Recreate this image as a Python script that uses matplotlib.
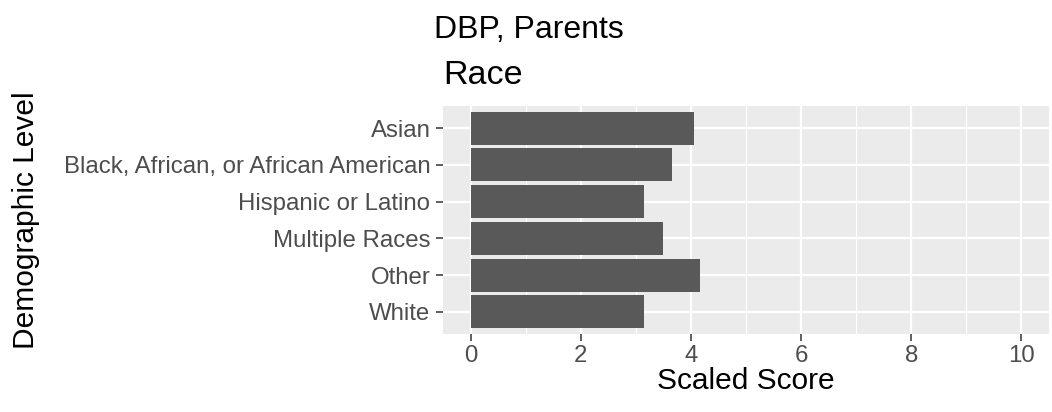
import matplotlib.pyplot as plt
import numpy as np

# valeurs
categorias = ['Asian', 'Black, African, or African American', 'Hispanic or Latino',
              'Multiple Races', 'Other', 'White']
scores = [4.05, 3.65, 3.14, 3.50, 4.16, 3.14]
xticks = [0, 2, 4, 6, 8, 10]

plt.rcParams['font.family'] = ['Liberation Sans', 'DejaVu Sans']

fig = plt.figure(figsize=(10.52, 4.12), dpi=100)
ax = fig.add_axes([0.4211, 0.1893, 0.9971 - 0.4211, 0.7427 - 0.1893])

y = np.arange(len(categorias))[::-1] + 1
ax.barh(y, scores, height=0.9, color='#595959', zorder=3)

ax.set_facecolor('#EBEBEB')
ax.set_xlim(-0.5, 10.5)
ax.set_ylim(0.4, 6.6)
ax.set_xticks(xticks)
ax.set_xticks([1, 3, 5, 7, 9], minor=True)
ax.set_yticks(y)
ax.set_yticklabels(categorias)
ax.grid(which='major', color='white', linewidth=1.6, zorder=1)
ax.grid(which='minor', axis='x', color='white', linewidth=0.8, zorder=1)
for s in ax.spines.values():
    s.set_visible(False)
ax.tick_params(axis='both', which='major', length=5, width=1.1, color='#333333',
               labelcolor='#4D4D4D', labelsize=17.3)
ax.tick_params(axis='y', pad=4)
ax.tick_params(axis='x', pad=3)
ax.tick_params(axis='x', which='minor', length=0)

ax.set_xlabel('Scaled Score', fontsize=21.5, labelpad=0)
ax.set_ylabel('Demographic Level', fontsize=21.5)
ax.yaxis.set_label_coords(-0.665, 0.5)
ax.set_title('Race', fontsize=24.5, loc='left', pad=16)
fig.text(0.503, 0.927, 'DBP, Parents', fontsize=23, ha='center', va='center')

fig.savefig('out.png', dpi=100)
